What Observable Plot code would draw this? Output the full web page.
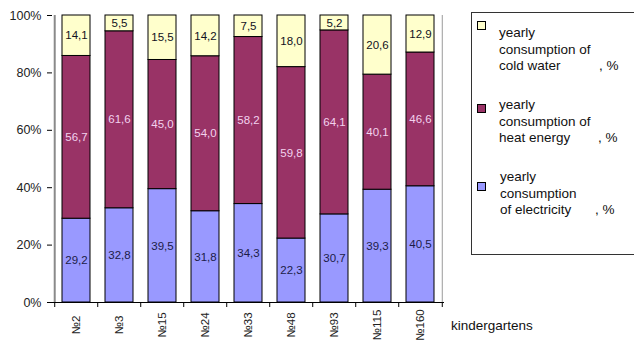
<!DOCTYPE html>
<html>
<head>
<meta charset="utf-8">
<script src="https://cdn.jsdelivr.net/npm/d3@7"></script>
<script src="https://cdn.jsdelivr.net/npm/@observablehq/plot@0.6"></script>
<style>
  html, body { margin: 0; padding: 0; background: #fff; }
  #wrap { position: relative; width: 634px; height: 340px; overflow: hidden; }
  #wrap svg { position: absolute; left: 0; top: 0; }
  #overlay { pointer-events: none; }
</style>
</head>
<body>
<div id="wrap"></div>
<script>
// Kindergartens and the share of each utility in yearly consumption, %
const categories = ["№2", "№3", "№15", "№24", "№33", "№48", "№93", "№115", "№160"];
const electricity = [29.2, 32.8, 39.5, 31.8, 34.3, 22.3, 30.7, 39.3, 40.5];
const heatEnergy = [56.7, 61.6, 45.0, 54.0, 58.2, 59.8, 64.1, 40.1, 46.6];
const coldWater = [14.1, 5.5, 15.5, 14.2, 7.5, 18.0, 5.2, 20.6, 12.9];

const seriesKeys = ["electricity", "heat energy", "cold water"];
const seriesValues = [electricity, heatEnergy, coldWater];
const seriesColors = ["#9999ff", "#993366", "#ffffcc"];
const labelColors = ["#1c1c48", "#f2d2ee", "#111122"];
const legendLines = [
  ["yearly", "consumption of", "cold water"],
  ["yearly", "consumption of", "heat energy"],
  ["yearly", "consumption", "of electricity"]
];
const legendSuffix = ", %";
const yTicks = [0, 0.2, 0.4, 0.6, 0.8, 1];
const xTitle = "kindergartens";

// long table: one row per kindergarten and series
const rows = [];
seriesKeys.forEach((s, i) => {
  categories.forEach((k, j) => rows.push({k, s, i, v: seriesValues[i][j]}));
});

const W = 634, H = 340;
const mLeft = 52, mRight = 190, mTop = 15, mBottom = 38;
const step = (W - mLeft - mRight) / categories.length;
const font = "'Liberation Sans', Arial, sans-serif";
const fmt = v => v.toFixed(1).replace(".", ",");

const stackOpts = {x: "k", y: "v", z: "s", offset: "normalize"};

const chart = Plot.plot({
  width: W,
  height: H,
  marginLeft: mLeft,
  marginRight: mRight,
  marginTop: mTop,
  marginBottom: mBottom,
  style: {fontFamily: font, background: "#fff", overflow: "hidden"},
  x: {domain: categories, paddingInner: 0.36, paddingOuter: 0.18, axis: null},
  y: {domain: [0, 1], axis: null},
  color: {type: "identity"},
  marks: [
    Plot.barY(rows, Plot.stackY({
      ...stackOpts,
      fill: d => seriesColors[d.i],
      stroke: "#000",
      strokeWidth: 1
    })),
    Plot.text(rows, Plot.stackY({
      ...stackOpts,
      text: d => fmt(d.v),
      fill: d => labelColors[d.i],
      fontSize: 11.5
    })),
    // plot area sides
    Plot.ruleX([categories[0]], {dx: -step / 2, stroke: "#8a8a8a", strokeWidth: 2}),
    Plot.ruleX([categories[categories.length - 1]], {dx: step / 2, stroke: "#9a9a9a", strokeWidth: 1}),
    // category axis line and boundary ticks
    Plot.ruleY([0], {stroke: "#000", strokeWidth: 1}),
    Plot.ruleX(categories, {x: d => d, dx: -step / 2, y1: 0, y2: 0, insetBottom: -5, stroke: "#000"}),
    Plot.ruleX([categories[categories.length - 1]], {dx: step / 2, y1: 0, y2: 0, insetBottom: -5, stroke: "#000"}),
    // value axis
    Plot.axisY({
      ticks: yTicks,
      tickSize: 5,
      tickPadding: 6,
      tickFormat: d => Math.round(d * 100) + "%",
      fontSize: 12.5,
      fill: "#222",
      stroke: "#000",
      label: null
    }),
    // rotated category labels
    Plot.text(categories, {
      x: d => d,
      text: d => d,
      frameAnchor: "bottom",
      dy: 22.5,
      rotate: -90,
      textAnchor: "middle",
      lineAnchor: "middle",
      fontSize: 11.5,
      fill: "#222"
    })
  ]
});

const wrap = document.getElementById("wrap");
wrap.appendChild(chart);

// legend and axis title
const overlay = d3.select(wrap).append("svg")
  .attr("id", "overlay")
  .attr("width", W)
  .attr("height", H)
  .style("font-family", font);

overlay.append("rect")
  .attr("x", 471.5).attr("y", 12.5)
  .attr("width", 220).attr("height", 242)
  .attr("fill", "none").attr("stroke", "#333");

const swatchTop = [21, 104, 182];
const textLeft = [499, 499, 500];
const suffixLeft = [599, 598, 595];
const firstBaseline = [37, 109, 181];
const lineStep = 16.5;
const legendOrder = [2, 1, 0];

legendOrder.forEach((si, n) => {
  const g = overlay.append("g");
  g.append("rect")
    .attr("x", 477.5).attr("y", swatchTop[n] + 0.5)
    .attr("width", 8).attr("height", 8)
    .attr("fill", seriesColors[si]).attr("stroke", "#000");
  legendLines[n].forEach((line, li) => {
    g.append("text")
      .attr("x", textLeft[n])
      .attr("y", firstBaseline[n] + li * lineStep)
      .attr("font-size", 13.5)
      .attr("fill", "#111")
      .text(line);
  });
  g.append("text")
    .attr("x", suffixLeft[n])
    .attr("y", firstBaseline[n] + 2 * lineStep)
    .attr("font-size", 13.5)
    .attr("fill", "#111")
    .text(legendSuffix);
});

overlay.append("text")
  .attr("x", 451).attr("y", 330)
  .attr("font-size", 13.5)
  .attr("fill", "#111")
  .text(xTitle);
</script>
</body>
</html>
